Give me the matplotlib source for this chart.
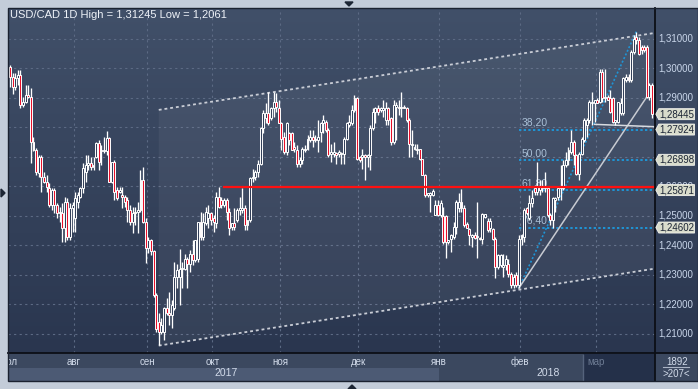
import numpy as np
import matplotlib
matplotlib.use("Agg")
import matplotlib.pyplot as plt
from matplotlib.patches import Rectangle, Polygon
from matplotlib.colors import LinearSegmentedColormap

# ---------------- data ----------------
opens = [1.3006,1.2972,1.2938,1.2966,1.2977,1.2876,1.2887,1.2910,1.2904,1.2751,1.2723,1.2644,1.2701,1.2633,1.2616,1.2593,1.2537,1.2588,1.2537,1.2508,
 1.2508,1.2458,1.2548,1.2429,1.2525,1.2491,1.2548,1.2565,1.2593,1.2650,1.2672,1.2678,1.2667,1.2701,1.2746,1.2718,1.2718,1.2718,1.2763,1.2616,
 1.2684,1.2588,1.2582,1.2571,1.2565,1.2554,1.2520,1.2480,1.2508,1.2514,1.2520,1.2621,1.2480,1.2390,1.2418,1.2379,1.2232,1.2141,1.2107,1.2107,
 1.2186,1.2172,1.2163,1.2186,1.2293,1.2293,1.2321,1.2321,1.2355,1.2338,1.2372,1.2350,1.2355,1.2480,1.2429,1.2474,1.2491,1.2508,1.2491,1.2474,
 1.2564,1.2553,1.2536,1.2553,1.2514,1.2463,1.2474,1.2485,1.2519,1.2519,1.2525,1.2468,1.2485,1.2627,1.2632,1.2649,1.2677,1.2796,1.2830,1.2847,
 1.2830,1.2864,1.2886,1.2864,1.2813,1.2768,1.2717,1.2779,1.2779,1.2734,1.2723,1.2677,1.2689,1.2723,1.2728,1.2756,1.2768,1.2762,
 1.2756,1.2785,1.2813,1.2819,1.2790,1.2711,1.2708,1.2714,1.2711,1.2711,1.2711,1.2762,1.2807,1.2813,1.2858,1.2900,1.2700,1.2700,
 1.2706,1.2700,1.2706,1.2798,1.2853,1.2866,1.2858,1.2858,1.2824,1.2866,1.2830,1.2751,1.2869,1.2869,1.2866,1.2869,1.2864,
 1.2824,1.2740,1.2726,1.2723,1.2726,1.2692,1.2640,1.2570,1.2570,1.2572,1.2502,1.2538,1.2502,1.2500,1.2500,1.2412,1.2423,
 1.2429,1.2463,1.2525,1.2547,1.2525,1.2471,1.2455,1.2429,1.2434,1.2429,1.2425,1.2423,1.2497,1.2482,1.2457,1.2455,1.2423,1.2327,
 1.2333,1.2327,1.2333,1.2338,1.2304,1.2265,1.2299,1.2265,1.2423,1.2429,1.2525,1.2491,1.2542,1.2593,1.2581,1.2587,
 1.2593,1.2593,1.2593,1.2502,1.2485,1.2553,1.2564,1.2593,1.2593,1.2672,1.2689,1.2717,1.2751,1.2706,1.2643,1.2711,1.2756,1.2807,
 1.2824,1.2881,1.2881,1.2892,1.2886,1.2988,1.2898,1.2903,1.2898,1.2898,1.2819,1.2819,1.2847,1.2847,1.2960,1.2971,1.2960,1.3056,
 1.3107,1.3095,1.3073,1.3073,1.3073,1.2903,1.2943]
highs = [1.3011,1.2983,1.2983,1.2994,1.2994,1.2904,1.2944,1.2944,1.2932,1.2768,1.2730,1.2706,1.2706,1.2650,1.2638,1.2610,1.2593,1.2593,1.2542,1.2531,
 1.2542,1.2565,1.2559,1.2542,1.2548,1.2582,1.2582,1.2599,1.2678,1.2706,1.2706,1.2701,1.2701,1.2751,1.2757,1.2740,1.2768,1.2786,1.2768,1.2684,
 1.2690,1.2599,1.2599,1.2599,1.2571,1.2565,1.2537,1.2531,1.2531,1.2548,1.2655,1.2667,1.2491,1.2429,1.2423,1.2384,1.2237,1.2169,1.2152,1.2192,
 1.2220,1.2242,1.2214,1.2344,1.2338,1.2389,1.2344,1.2372,1.2361,1.2384,1.2417,1.2417,1.2480,1.2514,1.2508,1.2530,1.2536,1.2514,1.2502,1.2581,
 1.2598,1.2564,1.2559,1.2559,1.2525,1.2474,1.2525,1.2525,1.2564,1.2593,1.2536,1.2485,1.2632,1.2660,1.2655,1.2689,1.2802,1.2858,1.2881,1.2920,
 1.2869,1.2920,1.2915,1.2892,1.2819,1.2785,1.2819,1.2785,1.2785,1.2751,1.2740,1.2700,1.2734,1.2740,1.2773,1.2790,1.2790,1.2773,
 1.2824,1.2819,1.2841,1.2824,1.2796,1.2745,1.2751,1.2717,1.2723,1.2717,1.2768,1.2819,1.2841,1.2875,1.2909,1.2903,1.2703,1.2728,
 1.2711,1.2711,1.2807,1.2864,1.2869,1.2875,1.2869,1.2892,1.2886,1.2869,1.2836,1.2892,1.2886,1.2892,1.2920,1.2875,1.2869,
 1.2830,1.2790,1.2745,1.2745,1.2728,1.2694,1.2643,1.2576,1.2581,1.2590,1.2553,1.2553,1.2553,1.2530,1.2502,1.2417,1.2440,
 1.2480,1.2553,1.2576,1.2590,1.2536,1.2480,1.2459,1.2440,1.2446,1.2547,1.2429,1.2508,1.2505,1.2491,1.2491,1.2459,1.2429,1.2372,
 1.2372,1.2372,1.2367,1.2355,1.2310,1.2304,1.2310,1.2434,1.2440,1.2525,1.2530,1.2570,1.2587,1.2604,1.2683,1.2621,
 1.2621,1.2649,1.2598,1.2508,1.2564,1.2564,1.2598,1.2672,1.2689,1.2717,1.2734,1.2790,1.2756,1.2711,1.2717,1.2768,1.2830,1.2830,
 1.2892,1.2920,1.2892,1.2898,1.2999,1.2999,1.2999,1.2909,1.2926,1.2903,1.2824,1.2886,1.2898,1.2971,1.2982,1.2982,1.3062,1.3112,
 1.31245,1.3107,1.3079,1.3079,1.3079,1.2949,1.2949]
lows = [1.2935,1.2912,1.2927,1.2944,1.2864,1.2870,1.2881,1.2898,1.2678,1.2718,1.2638,1.2633,1.2582,1.2610,1.2582,1.2531,1.2520,1.2508,1.2491,1.2480,
 1.2412,1.2412,1.2418,1.2418,1.2446,1.2446,1.2525,1.2560,1.2576,1.2616,1.2655,1.2655,1.2655,1.2695,1.2655,1.2672,1.2712,1.2706,1.2616,1.2610,
 1.2554,1.2554,1.2576,1.2525,1.2531,1.2480,1.2469,1.2441,1.2469,1.2441,1.2514,1.2475,1.2339,1.2373,1.2367,1.2226,1.2107,1.2061,1.2100,1.2078,
 1.2163,1.2129,1.2118,1.2180,1.2254,1.2197,1.2254,1.2316,1.2254,1.2310,1.2333,1.2344,1.2344,1.2417,1.2417,1.2468,1.2457,1.2468,1.2446,1.2457,
 1.2525,1.2525,1.2530,1.2485,1.2434,1.2451,1.2451,1.2480,1.2502,1.2508,1.2451,1.2451,1.2480,1.2615,1.2621,1.2632,1.2672,1.2779,1.2813,1.2807,
 1.2824,1.2836,1.2853,1.2813,1.2723,1.2711,1.2706,1.2740,1.2723,1.2717,1.2666,1.2666,1.2677,1.2717,1.2723,1.2751,1.2734,1.2751,
 1.2717,1.2751,1.2779,1.2785,1.2700,1.2683,1.2700,1.2677,1.2700,1.2677,1.2677,1.2756,1.2802,1.2807,1.2853,1.2689,1.2683,1.2660,
 1.2621,1.2666,1.2655,1.2790,1.2813,1.2841,1.2853,1.2836,1.2807,1.2807,1.2740,1.2745,1.2756,1.2841,1.2836,1.2864,1.2819,
 1.2700,1.2700,1.2723,1.2711,1.2689,1.2638,1.2564,1.2564,1.2514,1.2568,1.2502,1.2500,1.2497,1.2406,1.2358,1.2406,1.2378,
 1.2423,1.2440,1.2514,1.2514,1.2463,1.2457,1.2401,1.2395,1.2423,1.2358,1.2417,1.2406,1.2491,1.2446,1.2446,1.2417,1.2288,1.2321,
 1.2327,1.2293,1.2316,1.2293,1.2254,1.2254,1.2260,1.22550,1.2401,1.2412,1.2502,1.2485,1.2530,1.2570,1.2570,1.2570,
 1.2581,1.2581,1.2497,1.2468,1.2457,1.2514,1.2553,1.2553,1.2587,1.2666,1.2672,1.2711,1.2672,1.2638,1.2621,1.2706,1.2751,1.2768,
 1.2813,1.2807,1.2819,1.2881,1.2881,1.2886,1.2886,1.2892,1.2847,1.2813,1.2807,1.2813,1.2841,1.2841,1.2954,1.2954,1.2954,1.3050,
 1.3084,1.3045,1.3050,1.3056,1.2898,1.2892,1.2830]
closes = [1.2972,1.2938,1.2966,1.2977,1.2876,1.2887,1.2910,1.2904,1.2751,1.2723,1.2650,1.2701,1.2633,1.2616,1.2599,1.2537,1.2588,1.2537,1.2508,1.2510,
 1.2458,1.2548,1.2429,1.2525,1.2537,1.2559,1.2571,1.2593,1.2661,1.2672,1.2678,1.2667,1.2672,1.2746,1.2684,1.2723,1.2723,1.2763,1.2616,1.2684,
 1.2582,1.2559,1.2588,1.2565,1.2548,1.2520,1.2480,1.2508,1.2514,1.2520,1.2621,1.2480,1.2390,1.2418,1.2379,1.2232,1.2116,1.2107,1.2130,1.2186,
 1.2172,1.2163,1.2197,1.2293,1.2316,1.2321,1.2323,1.2355,1.2338,1.2372,1.2350,1.2417,1.2480,1.2429,1.2480,1.2514,1.2508,1.2485,1.2480,1.2564,
 1.2530,1.2536,1.2553,1.2514,1.2457,1.2474,1.2463,1.2519,1.2525,1.2525,1.2468,1.2485,1.2627,1.2632,1.2649,1.2677,1.2796,1.2847,1.2847,1.2813,
 1.2864,1.2886,1.2869,1.2813,1.2762,1.2717,1.2813,1.2756,1.2723,1.2728,1.2677,1.2689,1.2728,1.2728,1.2762,1.2768,1.2756,1.2756,
 1.2768,1.2813,1.2824,1.2790,1.2706,1.2717,1.2717,1.2706,1.2717,1.2714,1.2762,1.2813,1.2819,1.2858,1.2900,1.2694,1.2689,1.2706,
 1.2700,1.2706,1.2798,1.2853,1.2864,1.2853,1.2864,1.2866,1.2866,1.2824,1.2751,1.2875,1.2875,1.2864,1.2869,1.2864,1.2824,
 1.2742,1.2742,1.2734,1.2728,1.2692,1.2640,1.2570,1.2576,1.2576,1.2584,1.2538,1.2502,1.2542,1.2412,1.2412,1.2417,1.2434,
 1.2463,1.2547,1.2547,1.2525,1.2468,1.2459,1.2434,1.2434,1.2425,1.2429,1.2421,1.2505,1.2505,1.2451,1.2482,1.2423,1.2327,1.2367,
 1.2367,1.2333,1.2355,1.2304,1.2265,1.2293,1.2265,1.2423,1.2434,1.2519,1.2508,1.2542,1.2559,1.2581,1.2598,1.2598,
 1.2598,1.2598,1.2502,1.2485,1.2559,1.2559,1.2593,1.2598,1.2672,1.2689,1.2723,1.2751,1.2706,1.2643,1.2711,1.2762,1.2824,1.2824,
 1.2886,1.2886,1.2892,1.2881,1.2988,1.2898,1.2903,1.2892,1.2852,1.2819,1.2824,1.2886,1.2881,1.2966,1.2971,1.2960,1.3056,1.3101,
 1.3095,1.3050,1.3062,1.3062,1.2903,1.2943,1.28445]

price_ticks = [1.21, 1.22, 1.23, 1.24, 1.25, 1.26, 1.27, 1.28, 1.29, 1.30, 1.31]
hidden_ticks = [1.27, 1.28]          # fully covered by the price boxes
month_labels = ["июл", "авг", "сен", "окт", "ноя", "дек", "янв", "фев", "мар"]
month_start_bar = [0, 25, 53, 78, 104, 134, 165, 196, 225]
year_labels = ["2017", "2018"]
fib_names = ["38,20", "50,00", "61,80", "76,40"]
fib_values = [1.27924, 1.26898, 1.25871, 1.24602]
fib_low, fib_high = 1.22550, 1.31245
last_price = 1.28445
red_level = 1.2598
red_start_bar = 82
sep_low_bar = 57
feb_low_bar = 195
mar_high_bar = 240
channel_upper = (1.2859, 1.3120)
channel_lower = (1.2060, 1.2321)
trend_end = (244, 1.2903)
flat_line = (224, 1.2810, 1.2802)

# ---------------- layout ----------------
W, H = 698, 389
FONT = "Liberation Sans"
fig = plt.figure(figsize=(W / 100, H / 100), dpi=100, facecolor="#c3ccd9")

def fa(x0, y0, x1, y1):
    return [x0 / W, 1 - y1 / H, (x1 - x0) / W, (y1 - y0) / H]

n = len(closes)
s = 642.0 / (n - 1)          # px per bar
xmin = -2.0 / s
xmax = 645.0 / s
def py(y):
    return 1.30 - (y - 68.3) / 2950.0
ymin, ymax = py(353), py(8)

bg = LinearSegmentedColormap.from_list("bg", ["#2a364f", "#415069"])
grad = np.linspace(0, 1, 256).reshape(-1, 1)

ax = fig.add_axes(fa(8, 8, 655, 353))
ax.set_xlim(xmin, xmax)
ax.set_ylim(ymin, ymax)
ax.imshow(grad, extent=[xmin, xmax, ymin, ymax], origin="lower", aspect="auto", cmap=bg, zorder=0)
ax.set_xticks([]); ax.set_yticks([])
for sp in ax.spines.values():
    sp.set_visible(False)

# grid
for p in price_ticks:
    ax.axhline(p, color="#5c6a84", lw=0.8, dashes=(2, 3), zorder=1)
for m in month_start_bar[1:]:
    ax.axvline(m - 0.5, color="#5c6a84", lw=0.8, dashes=(2, 3), zorder=1)

# channel
xc0, xc1 = sep_low_bar, xmax
poly = Polygon([(xc0, channel_lower[0]), (xc1, channel_lower[1]), (xc1, channel_upper[1]), (xc0, channel_upper[0])],
               closed=True, facecolor="white", alpha=0.05, edgecolor="none", zorder=1)
ax.add_patch(poly)
ax.plot([xc0, xc1], channel_upper, color="#c9cdd6", lw=1.3, dashes=(1.6, 1.6), zorder=2)
ax.plot([xc0, xc1], channel_lower, color="#c9cdd6", lw=1.3, dashes=(1.6, 1.6), zorder=2)

# red level
ax.plot([red_start_bar, xmax], [red_level, red_level], color="#ff1010", lw=1.6, zorder=5)

# fibo
for name, val in zip(fib_names, fib_values):
    ax.plot([feb_low_bar, xmax], [val, val], color="#1f95d6", lw=1.4, dashes=(1.2, 1.2), zorder=2)
    ax.text(feb_low_bar + 1.0, val + 0.0006, name, color="#a9bfd6",
            fontsize=7.5, family=FONT, va="bottom", ha="left", zorder=2)
ax.plot([feb_low_bar, mar_high_bar], [fib_low, fib_high], color="#1f95d6", lw=1.2, dashes=(1.2, 1.2), zorder=2)
ax.plot([feb_low_bar, trend_end[0]], [fib_low, trend_end[1]], color="#c8cbd2", lw=1.1, zorder=2)
ax.plot([flat_line[0], xmax], [flat_line[1], flat_line[2]], color="#d8dbe0", lw=1.1, zorder=2)

# candles
x = np.arange(n)
o = np.array(opens); h = np.array(highs); l = np.array(lows); c = np.array(closes)
hi = np.maximum(h, np.maximum(o, c)); lo = np.minimum(l, np.minimum(o, c))
ax.vlines(x, lo, hi, color="white", lw=0.95, zorder=3)
bw = 0.74
minh = 1.0 / 2950
for i in range(n):
    top, bot = max(o[i], c[i]), min(o[i], c[i])
    if top - bot < minh:
        top = bot + minh
    fc = "#e8102a" if c[i] < o[i] else "#33405a"
    ax.add_patch(Rectangle((x[i] - bw / 2, bot), bw, top - bot, facecolor=fc, edgecolor="white",
                           lw=0.7, zorder=4))

# title
fig.text(10 / W, 1 - 15 / H, "USD/CAD 1D High = 1,31245 Low = 1,2061", color="#eef2f8",
         fontsize=8, family=FONT, va="center", ha="left")

# ---------------- right price axis ----------------
axr = fig.add_axes(fa(655, 8, 698, 353))
axr.set_xlim(0, 43); axr.set_ylim(ymin, ymax)
axr.imshow(grad, extent=[0, 43, ymin, ymax], origin="lower", aspect="auto", cmap=bg, zorder=0)
axr.set_xticks([]); axr.set_yticks([])
for k, sp in axr.spines.items():
    sp.set_visible(k == "left")
axr.spines["left"].set_color("#0c0f16"); axr.spines["left"].set_linewidth(1.3)
for p in price_ticks:
    if p in hidden_ticks:
        continue
    axr.text(21, p, f"{p:.5f}".replace(".", ","), color="#c9d6ea", fontsize=7, family=FONT,
             ha="center", va="center", zorder=2)
box_vals = [last_price] + fib_values
hh = 5.5 / 2950
for v in box_vals:
    pts = [(0.8, v), (3.8, v + hh), (39.5, v + hh), (39.5, v - hh), (3.8, v - hh)]
    axr.add_patch(Polygon(pts, closed=True, facecolor="#d9dccc", edgecolor="#f4f4ee", lw=0.6, zorder=3))
    axr.text(21.5, v, f"{v:.5f}".replace(".", ","), color="#1b2435", fontsize=7, family=FONT,
             ha="center", va="center", zorder=4)

# ---------------- bottom time axis ----------------
axb = fig.add_axes(fa(8, 353, 655, 381))
axb.set_xlim(xmin, xmax); axb.set_ylim(28, 0)
axb.set_facecolor("#3b485f")
axb.set_xticks([]); axb.set_yticks([])
for k, sp in axb.spines.items():
    sp.set_visible(k == "top")
axb.spines["top"].set_color("#0c0f16"); axb.spines["top"].set_linewidth(1.3)
x_2018 = month_start_bar[6] - 0.5
x_mar = month_start_bar[8] - 0.5
axb.add_patch(Rectangle((-0.5, 14.5), x_2018 + 0.5, 14, facecolor="#4c5a74", edgecolor="none", zorder=1))
axb.add_patch(Rectangle((x_mar - 4.5, 1), xmax, 27, facecolor="#243049", edgecolor="none", zorder=1))
axb.plot([x_mar - 5, x_mar - 5], [2, 27], color="#55637c", lw=1.0, zorder=2)
for lab, m in zip(month_labels, month_start_bar):
    col = "#6d7b93" if lab == "мар" else "#d2dbea"
    axb.text(m - 0.5, 9, lab, color=col, fontsize=7, family=FONT, ha="center", va="center", zorder=3, clip_on=True)

fig.text(226 / W, 1 - 373.5 / H, year_labels[0], color="#d2dbea", fontsize=7.5, family=FONT,
         ha="center", va="center")
fig.text(548 / W, 1 - 373.5 / H, year_labels[1], color="#d2dbea", fontsize=7.5, family=FONT,
         ha="center", va="center")

axc = fig.add_axes(fa(655, 353, 698, 381))
axc.set_xlim(0, 43); axc.set_ylim(28, 0)
axc.set_facecolor("#3b485f")
axc.set_xticks([]); axc.set_yticks([])
for k, sp in axc.spines.items():
    sp.set_visible(k in ("top", "left"))
    sp.set_color("#0c0f16"); sp.set_linewidth(1.3)
axc.text(22, 8.7, "1892", color="#d2dbea", fontsize=7, family=FONT, ha="center", va="center")
axc.plot([8, 34], [14, 14], color="#aab4c4", lw=0.8)
axc.text(21, 21, ">207<", color="#d2dbea", fontsize=7, family=FONT, ha="center", va="center")

# frame arrows
ov = fig.add_axes([0, 0, 1, 1], facecolor="none")
ov.set_xlim(0, W); ov.set_ylim(H, 0); ov.axis("off")
ov.add_patch(Polygon([(345, 2), (353, 2), (349, 6)], closed=True, color="#1c2534"))
ov.add_patch(Polygon([(1, 189), (1, 197), (5, 193)], closed=True, color="#1c2534"))
ov.add_patch(Polygon([(348, 389), (356, 389), (352, 385)], closed=True, color="#1c2534"))
ov.add_patch(Rectangle((7.5, 7.5), 690.5, 373.5, fill=False, edgecolor="#1a2130", lw=1.0))

fig.savefig("out.png", dpi=100, facecolor=fig.get_facecolor())
